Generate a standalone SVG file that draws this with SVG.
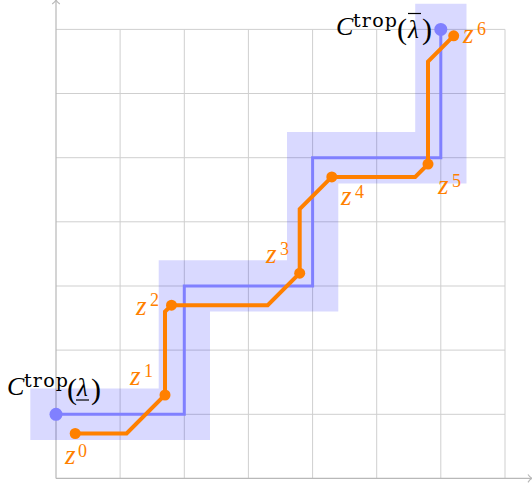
<svg xmlns="http://www.w3.org/2000/svg" width="532" height="487" viewBox="0 0 532 487">
<defs>
<style>
.grid{stroke:#cfcfcf;stroke-width:1;fill:none}
.axis{stroke:#b8b8b8;stroke-width:1.2;fill:none}
.region{fill:#0000ff;fill-opacity:0.15;stroke:none}
.blue{stroke:#8080ff;stroke-width:3;fill:none;stroke-linejoin:miter}
.orange{stroke:#ff8000;stroke-width:4;fill:none;stroke-linejoin:miter}
.odot{fill:#ff8000}
.bdot{fill:#8080ff}
.zl{font-family:"Liberation Serif",serif;fill:#ff8000;font-size:27px}
.zl .v{font-style:italic}
.zl .s{font-size:18px}
.cl{font-family:"Liberation Serif",serif;fill:#000;font-size:26px}
.cl .c{font-style:italic}
.cl .t{font-family:"DejaVu Serif",serif;font-size:19px}
.cl .p{font-size:30px}
.cl .l{font-style:italic;font-size:25px}
</style>
</defs>
<rect width="532" height="487" fill="#ffffff"/>
<g id="grid" class="grid">
<path d="M120.1 29.4V478.4M184.3 29.4V478.4M248.4 29.4V478.4M312.6 29.4V478.4M376.7 29.4V478.4M440.8 29.4V478.4M505 29.4V478.4"/>
<path d="M56 29.4H505M56 93.5H505M56 157.7H505M56 221.8H505M56 286H505M56 350.1H505M56 414.3H505"/>
</g>
<g id="axes" class="axis">
<path d="M56 478.4H531.5"/>
<path d="M56 478.4V0.5"/>
<path d="M528 474.5Q530 477.5 532 478.4Q530 479.3 528 482.3"/>
<path d="M52.2 4Q55.1 2 56 0Q56.9 2 59.8 4"/>
</g>
<g id="region">
<polygon class="region" points="30.3,440 210,440 210,311.6 338.3,311.6 338.3,183.4 466.5,183.4 466.5,3.7 415.2,3.7 415.2,132 287,132 287,260.3 158.7,260.3 158.7,388.6 30.3,388.6"/>
</g>
<g id="connectors">
<polyline class="blue" points="56,414.3 184.3,414.3 184.3,286 312.6,286 312.6,157.7 440.8,157.7 440.8,29.4"/>
<polyline class="orange" points="75.2,433.5 126.6,433.5 165,395 165,311.6 171.5,305.2 267.7,305.2 299.7,273.2 299.7,209 331.8,176.9 415.2,176.9 428,164.1 428,61.5 453.7,35.8"/>
</g>
<g id="node-c-lower">
<circle class="bdot" cx="56" cy="414.3" r="6.5"/>
<text class="cl" y="395"><tspan class="c" x="7">C</tspan><tspan class="t" x="24" y="387" textLength="44" lengthAdjust="spacing">trop</tspan><tspan class="p" x="67" y="399">(</tspan><tspan class="l" x="77" y="396">λ</tspan><tspan class="p" x="91" y="399">)</tspan></text>
<line x1="76" y1="400" x2="89" y2="400" stroke="#000" stroke-width="1.2"/>
</g>
<g id="node-c-upper">
<circle class="bdot" cx="440.8" cy="29.4" r="6.5"/>
<text class="cl" y="35"><tspan class="c" x="336">C</tspan><tspan class="t" x="353" y="27" textLength="44" lengthAdjust="spacing">trop</tspan><tspan class="p" x="397" y="39">(</tspan><tspan class="l" x="408" y="38">λ</tspan><tspan class="p" x="422" y="39">)</tspan></text>
<line x1="408" y1="13.5" x2="421" y2="13.5" stroke="#000" stroke-width="1.2"/>
</g>
<g id="node-z0"><circle class="odot" cx="75.2" cy="433.5" r="5.5"/><text class="zl" y="464"><tspan class="v" x="65">z</tspan><tspan class="s" x="78" y="457">0</tspan></text></g>
<g id="node-z1"><circle class="odot" cx="165" cy="395" r="5.5"/><text class="zl" y="385"><tspan class="v" x="130">z</tspan><tspan class="s" x="144" y="377">1</tspan></text></g>
<g id="node-z2"><circle class="odot" cx="171.5" cy="305.2" r="5.5"/><text class="zl" y="315"><tspan class="v" x="136">z</tspan><tspan class="s" x="150" y="306">2</tspan></text></g>
<g id="node-z3"><circle class="odot" cx="299.7" cy="273.2" r="5.5"/><text class="zl" y="263"><tspan class="v" x="266">z</tspan><tspan class="s" x="280" y="255">3</tspan></text></g>
<g id="node-z4"><circle class="odot" cx="331.8" cy="176.9" r="5.5"/><text class="zl" y="205"><tspan class="v" x="341">z</tspan><tspan class="s" x="355" y="198">4</tspan></text></g>
<g id="node-z5"><circle class="odot" cx="428" cy="164.1" r="5.5"/><text class="zl" y="194"><tspan class="v" x="438">z</tspan><tspan class="s" x="452" y="187">5</tspan></text></g>
<g id="node-z6"><circle class="odot" cx="453.7" cy="35.8" r="5.5"/><text class="zl" y="43"><tspan class="v" x="463">z</tspan><tspan class="s" x="477" y="35">6</tspan></text></g>
</svg>
